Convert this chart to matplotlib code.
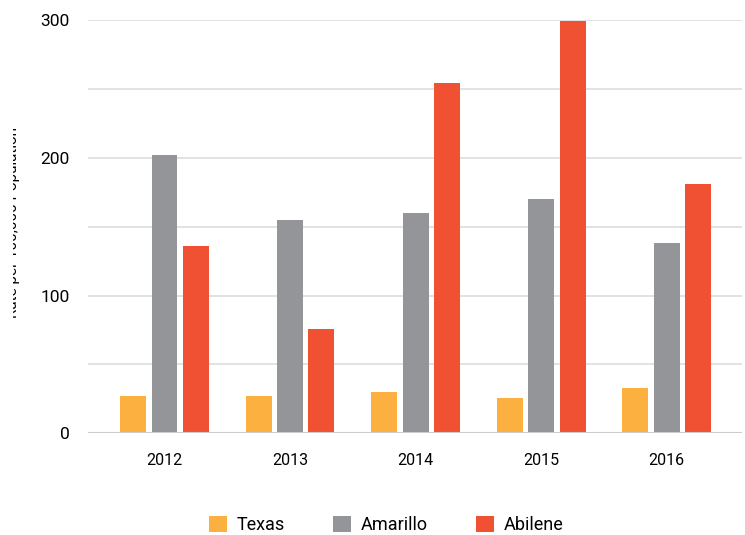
import numpy as np
import matplotlib.pyplot as plt
from matplotlib.transforms import Bbox

plt.rcParams['font.family'] = ['Roboto', 'DejaVu Sans']

years = ['2012', '2013', '2014', '2015', '2016']
texas = [27, 27, 30, 26, 33]
amarillo = [202, 155, 160, 170, 138]
abilene = [136, 76, 254, 299, 181]

series = [('Texas', texas, '#FBB040'),
          ('Amarillo', amarillo, '#939598'),
          ('Abilene', abilene, '#F05133')]

fig = plt.figure(figsize=(7.45, 5.35), dpi=100)
ax = fig.add_axes([0.118, 0.19, 0.878, 0.7726])

x = np.arange(len(years))
w = 0.207
step = 0.25
for i, (name, vals, col) in enumerate(series):
    ax.bar(x + (i - 1) * step, vals, w, color=col, label=name, zorder=3)

ax.set_ylim(0, 300)
ax.set_xlim(-0.61, 4.6)
ax.set_yticks([0, 100, 200, 300])
ax.set_yticks([50, 150, 250], minor=True)
ax.grid(axis='y', which='both', color='#dddddd', lw=1.2, zorder=0)
ax.axhline(0, color='#cccccc', lw=1.5, zorder=4)
for s in ax.spines.values():
    s.set_visible(False)
ax.tick_params(axis='both', which='both', length=0)
ax.tick_params(axis='y', labelsize=12.5, pad=13)
ax.tick_params(axis='x', labelsize=11.5, pad=14)
ax.set_xticks(x)
ax.set_xticklabels(years)

# axis title is cut off at the left edge in the original
ylab = fig.text(13 / 745, 0.585, 'Rate per 100,000 Population', rotation=90,
                ha='center', va='center', fontsize=11)
ylab.set_clip_box(Bbox.from_extents(12.5, 0, 745, 535))

ax.legend(loc='center', bbox_to_anchor=(0.456, -0.222), ncol=3,
          frameon=False, fontsize=13, handlelength=1.0, handleheight=1.0,
          columnspacing=2.7, handletextpad=0.5)

fig.savefig('out.png', dpi=100)
